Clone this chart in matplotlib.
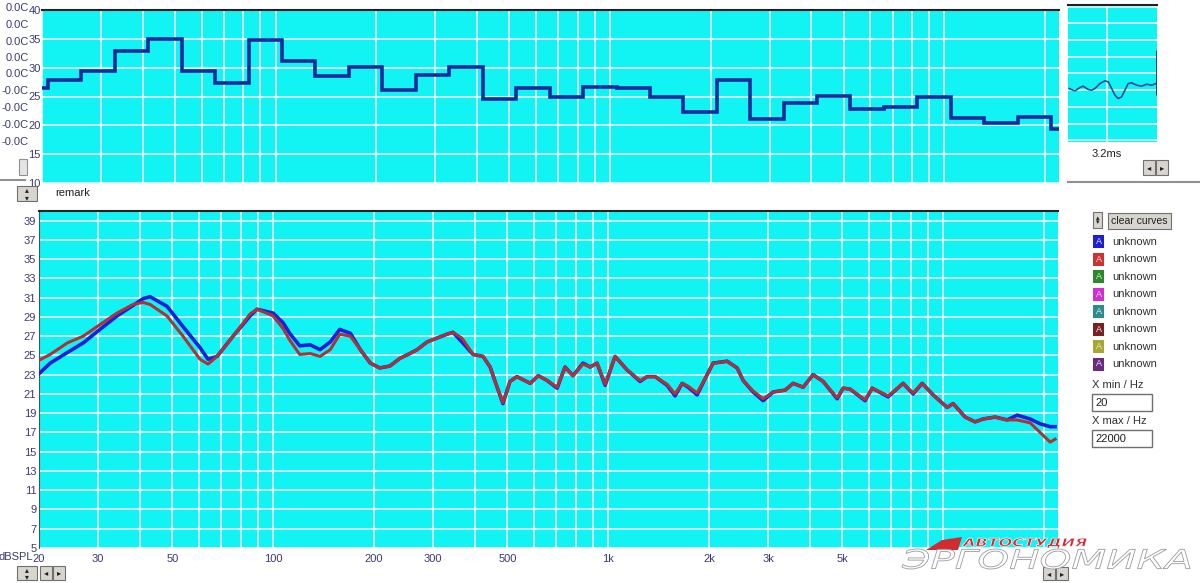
import matplotlib
matplotlib.use('Agg')
import matplotlib.pyplot as plt
from matplotlib.patches import Rectangle, Polygon, PathPatch
from matplotlib.textpath import TextPath
from matplotlib.font_manager import FontProperties
from matplotlib.transforms import Affine2D
from matplotlib.ticker import NullFormatter

plt.rcParams['font.family'] = ['Liberation Sans', 'DejaVu Sans']

CYAN = '#12f3f3'
LABEL = '#3a3a70'

# top panel: 1/10-decade band levels (dB), stair edges in Hz
band_edges = [20, 20.8, 26.2, 33.0, 41.6, 52.3, 65.9, 83.0, 104.5, 131.5, 165.6,
              208, 262, 330, 416, 523, 659, 830, 1045, 1315, 1656,
              2083, 2622, 3301, 4156, 5232, 6587, 8292, 10439, 13142, 16545,
              20830, 22000]
band_levels = [26.5, 27.8, 29.5, 32.9, 35.0, 29.5, 27.4, 34.8, 31.1, 28.5,
               30.2, 26.2, 28.8, 30.1, 24.6, 26.4, 24.9, 26.7, 26.4, 24.9,
               22.3, 27.8, 21.1, 23.9, 25.1, 22.8, 23.2, 24.9, 21.2, 20.4,
               21.4, 19.3]

# impulse window (small panel)
imp_t = [0.08, 0.57, 0.98, 1.25, 1.66, 1.94, 2.21, 2.62, 3.03, 3.30, 3.58,
         3.85, 4.12, 4.40, 4.67, 4.94, 5.22, 5.63, 6.04, 6.45, 6.86, 7.22]
imp_a = [0.1, -0.04, 0.16, 0.24, 0.04, 0.0, 0.1, 0.4, 0.56, 0.5, 0.1,
         -0.3, -0.5, -0.4, 0.0, 0.4, 0.44, 0.3, 0.24, 0.36, 0.3, 0.4]

# frequency response curves
freq = [20, 21.6, 24.3, 27.1, 30.4, 34.2, 38.2, 40.9, 42.9, 48.2,
        53.8, 60.5, 63.9, 68.0, 75.9, 85.3, 89.5, 99.9, 107, 112,
        120, 129, 138, 148, 158, 170, 182, 195, 208, 223,
        239, 256, 269, 288, 308, 330, 344, 366, 395, 423,
        444, 466, 485, 509, 534, 585, 618, 657, 704, 743,
        785, 841, 883, 926, 979, 1048, 1138, 1245, 1306, 1380,
        1499, 1583, 1662, 1732, 1842, 1973, 2056, 2264, 2425, 2528,
        2707, 2900, 3106, 3373, 3564, 3817, 4088, 4379, 4823, 5024,
        5272, 5846, 6134, 6845, 7589, 8128, 8646, 9329, 10268, 10702,
        11622, 12448, 13152, 14284, 15512, 16616, 18168, 19459, 20842, 21572]
spl_blue = [23.1, 24.2, 25.3, 26.3, 27.7, 29.1, 30.2, 30.9, 31.1, 30.1,
            28.0, 25.8, 24.6, 24.9, 27.0, 29.1, 29.8, 29.4, 28.4, 27.3,
            26.0, 26.1, 25.6, 26.4, 27.7, 27.3, 25.6, 24.2, 23.7, 23.9,
            24.7, 25.2, 25.6, 26.4, 26.8, 27.2, 27.4, 26.4, 25.1, 24.9,
            23.8, 21.7, 20.0, 22.3, 22.8, 22.1, 22.9, 22.4, 21.6, 23.8,
            22.9, 24.2, 23.8, 24.2, 21.9, 24.9, 23.5, 22.3, 22.8, 22.8,
            21.9, 20.8, 22.1, 21.7, 20.9, 23.0, 24.2, 24.4, 23.7, 22.4,
            21.2, 20.3, 21.2, 21.4, 22.1, 21.7, 23.0, 22.3, 20.5, 21.6,
            21.5, 20.3, 21.6, 20.7, 22.1, 21.0, 22.1, 20.9, 19.6, 20.0,
            18.6, 18.1, 18.4, 18.6, 18.3, 18.8, 18.4, 17.9, 17.6, 17.6]
spl_red = [24.5, 25.1, 26.3, 27.0, 28.2, 29.4, 30.3, 30.5, 30.3, 29.1,
           27.0, 24.6, 24.1, 24.9, 27.0, 29.3, 29.8, 29.1, 27.8, 26.6,
           25.1, 25.2, 24.9, 25.6, 27.2, 27.0, 25.6, 24.2, 23.7, 23.9,
           24.7, 25.2, 25.6, 26.4, 26.8, 27.2, 27.4, 26.8, 25.1, 24.9,
           23.8, 21.7, 20.1, 22.3, 22.8, 22.1, 22.9, 22.4, 21.7, 23.8,
           22.9, 24.1, 23.8, 24.2, 22.0, 24.9, 23.5, 22.4, 22.8, 22.8,
           22.0, 21.0, 22.1, 21.8, 21.1, 23.0, 24.2, 24.4, 23.7, 22.4,
           21.3, 20.5, 21.2, 21.4, 22.1, 21.7, 23.0, 22.3, 20.6, 21.6,
           21.5, 20.4, 21.6, 20.8, 22.1, 21.1, 22.1, 20.9, 19.6, 20.0,
           18.6, 18.1, 18.4, 18.6, 18.3, 18.3, 18.0, 17.0, 16.0, 16.3]

x_major = [20, 30, 50, 100, 200, 300, 500, 1000, 2000, 3000, 5000]
x_labels = ['20', '30', '50', '100', '200', '300', '500', '1k', '2k', '3k', '5k']
x_minor = [40, 60, 70, 80, 90, 400, 600, 700, 800, 900,
           4000, 6000, 7000, 8000, 9000, 10000, 20000]

curve_colors = ['#1f1fd8', '#cc3333', '#2a8a2a', '#d030d0', '#2a8c8c', '#7a2222', '#a8a830', '#6a2a80']
curve_names = ['unknown'] * 8

W, H = 1200, 583
fig = plt.figure(figsize=(12, 5.83), dpi=100)
fig.patch.set_facecolor('white')


def px_axes(l, t, r, b):
    return fig.add_axes([l / W, 1 - b / H, (r - l) / W, (b - t) / H])


def log_grid(ax):
    ax.set_xscale('log')
    ax.set_xlim(20, 22000)
    ax.set_xticks(x_major)
    ax.set_xticks(x_minor, minor=True)
    ax.xaxis.set_minor_formatter(NullFormatter())
    ax.grid(True, which='both', color='white', lw=1.1)
    ax.tick_params(which='both', length=0)
    ax.set_axisbelow(True)


# ---------- top: 1/3 octave stair ----------
ax1 = px_axes(42, 10, 1059, 183)
ax1.set_facecolor(CYAN)
log_grid(ax1)
ax1.set_xticklabels([])
ax1.set_ylim(10, 40)
ax1.set_yticks(range(10, 41, 5))
ax1.tick_params(axis='y', labelsize=8, labelcolor=LABEL, pad=1)
ax1.stairs(band_levels, band_edges, color='#1c2a9c', lw=2.6, baseline=None)
for s in ['left', 'right', 'bottom']:
    ax1.spines[s].set_visible(False)
ax1.spines['top'].set_color('#202020')
ax1.spines['top'].set_linewidth(1.5)

# ---------- small impulse panel ----------
ax3 = px_axes(1068, 5, 1157, 142)
ax3.set_facecolor(CYAN)
ax3.set_xlim(0, 7.3)
ax3.set_ylim(-3.1, 5.1)
ax3.set_yticks(range(-3, 6))
ax3.set_xticks([3.2])
ax3.grid(True, color='white', lw=1.1)
ax3.tick_params(length=0, labelleft=False, labelbottom=False)
ax3.plot(imp_t, imp_a, color='#2a4aa0', lw=1.2)
ax3.vlines(7.28, -0.3, 2.4, color='#1c2a9c', lw=2)
for s in ['left', 'right', 'bottom']:
    ax3.spines[s].set_visible(False)
ax3.spines['top'].set_color('#202020')
ax3.spines['top'].set_linewidth(1.5)

# ---------- bottom: frequency response ----------
ax2 = px_axes(39, 211, 1058, 548)
ax2.set_facecolor(CYAN)
log_grid(ax2)
ax2.set_xticklabels(x_labels)
ax2.set_ylim(5, 40)
ax2.set_yticks(range(5, 40, 2))
ax2.tick_params(labelsize=8, labelcolor=LABEL, pad=2)
ax2.tick_params(axis='x', pad=4)
ax2.plot(freq, spl_blue, color=curve_colors[0], lw=2.6, zorder=3)
ax2.plot(freq, spl_red, color='#ac3438', lw=2.2, zorder=4)
for s in ['right', 'bottom']:
    ax2.spines[s].set_visible(False)
ax2.spines['top'].set_color('#202020')
ax2.spines['top'].set_linewidth(1.5)
ax2.spines['left'].set_color('#505050')

# ---------- overlay: widgets and texts ----------
ov = fig.add_axes([0, 0, 1, 1], zorder=10)
ov.set_xlim(0, W)
ov.set_ylim(H, 0)
ov.axis('off')

fs = 8
zero_rows = [8, 25, 42, 58, 74, 91, 108, 125, 142]
zero_txt = ['0.0C'] * 5 + ['-0.0C'] * 4
for y, t in zip(zero_rows, zero_txt):
    ov.text(29, y, t, fontsize=fs, color=LABEL, ha='right', va='center')

ov.text(33, 557, 'dBSPL', fontsize=fs, color=LABEL, ha='right', va='center')
ov.text(55, 193, 'remark', fontsize=fs, color='#202020', va='center')
ov.text(1107, 154, '3.2ms', fontsize=fs, color='#202020', ha='center', va='center')

ov.plot([0, 25], [180, 180], color='#909090', lw=1.5)
ov.plot([1068, 1200], [182, 182], color='#909090', lw=1.5)
ov.add_patch(Rectangle((19, 159), 8, 16, facecolor='#e4e4e4', edgecolor='#909090', lw=0.8))


def button(x, y, w, h, glyph=None, size=6):
    ov.add_patch(Rectangle((x, y), w, h, facecolor='#d8d5ce', edgecolor='#707070', lw=0.8))
    if glyph:
        ov.text(x + w / 2, y + h / 2, glyph, fontsize=size, ha='center', va='center',
                family=['DejaVu Sans'], color='#202020', linespacing=0.75)


spin = '\u25b4\n\u25be'
button(17, 186, 20, 15, spin, 5.5)
button(17, 566, 20, 14, spin, 5.5)
button(40, 566, 12, 14, '\u25c2')
button(53, 566, 12, 14, '\u25b8')
button(1143, 160, 12, 15, '\u25c2')
button(1156, 160, 12, 15, '\u25b8')
button(1043, 567, 12, 13, '\u25c2')
button(1056, 567, 12, 13, '\u25b8')

button(1093, 212, 9, 16, spin, 5)
button(1108, 213, 63, 16)
ov.text(1139.5, 221, 'clear curves', fontsize=7.5, ha='center', va='center', color='#202020')

legend_rows = [241.7, 259.3, 276.7, 294.3, 311.7, 329, 346.7, 364]
for y, c, name in zip(legend_rows, curve_colors, curve_names):
    ov.add_patch(Rectangle((1093, y - 6.5), 11, 13, facecolor=c, edgecolor='none'))
    ov.text(1098.5, y, 'A', fontsize=6.5, color='#e8e8e8', ha='center', va='center')
    ov.text(1112, y, name, fontsize=fs, color='#303030', va='center')

ov.text(1092, 385, 'X min / Hz', fontsize=fs, color='#303030', va='center')
ov.add_patch(Rectangle((1092, 394), 60, 17, facecolor='white', edgecolor='#707070', lw=1))
ov.text(1095, 403, '20', fontsize=fs, color='#202020', va='center')
ov.text(1092, 421, 'X max / Hz', fontsize=fs, color='#303030', va='center')
ov.add_patch(Rectangle((1092, 430), 60, 17, facecolor='white', edgecolor='#707070', lw=1))
ov.text(1095, 439, '22000', fontsize=fs, color='#202020', va='center')


# watermark
def path_text(s, x0, y0, w, h, weight='normal', **kw):
    tp = TextPath((0, 0), s, size=10,
                  prop=FontProperties(family='DejaVu Sans', weight=weight, style='italic'))
    ext = tp.get_extents()
    tr = Affine2D().translate(-ext.x0, -ext.y0).scale(w / ext.width, -h / ext.height).translate(x0, y0)
    ov.add_patch(PathPatch(tr.transform_path(tp), **kw))


ov.add_patch(Polygon([(926, 550), (942, 540), (962, 537), (958, 550)],
                     closed=True, facecolor='#d42a30', edgecolor='none'))
path_text('АВТОСТУДИЯ', 962, 548, 125, 10, weight='bold', facecolor='#d42a30', edgecolor='white', lw=0.5)
path_text('ЭРГОНОМИКА', 902, 569, 288, 20, facecolor='white', edgecolor='#9a9a9a', lw=0.6)

fig.savefig('out.png', dpi=100, facecolor='white')
